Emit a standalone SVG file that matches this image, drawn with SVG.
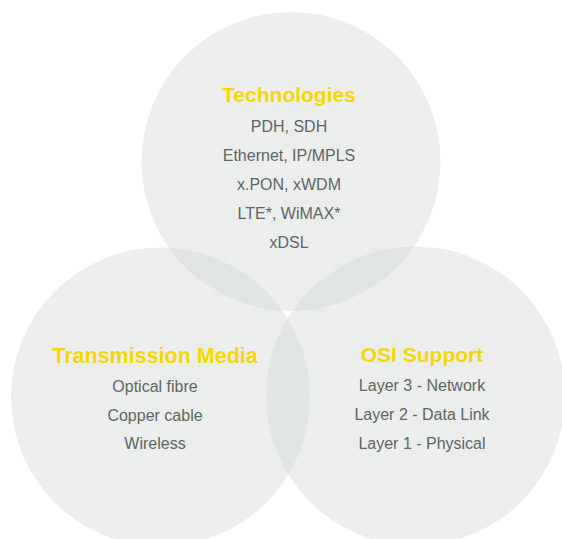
<svg xmlns="http://www.w3.org/2000/svg" width="562" height="539" viewBox="0 0 562 539">
<style>
.c{fill:#d0d4d2;fill-opacity:0.4}
.t{font-family:"Liberation Sans",Arial,sans-serif;font-weight:bold;font-size:21px;fill:#f9d600;text-anchor:middle}
.b{font-family:"Liberation Sans",Arial,sans-serif;font-size:16px;fill:#5c6662;text-anchor:middle}
</style>
<rect width="562" height="539" fill="#ffffff"/>
<g id="technologies">
<circle class="c" cx="291" cy="161.5" r="149.5"/>
<text class="t" x="289" y="102">Technologies</text>
<text class="b" x="289" y="132">PDH, SDH</text>
<text class="b" x="289" y="161">Ethernet, IP/MPLS</text>
<text class="b" x="289" y="190">x.PON, xWDM</text>
<text class="b" x="289" y="219">LTE*, WiMAX*</text>
<text class="b" x="289" y="248">xDSL</text>
</g>
<g id="transmission-media">
<circle class="c" cx="160.5" cy="397" r="149.5"/>
<text class="t" x="155" y="363" style="font-size:21.5px">Transmission Media</text>
<text class="b" x="155" y="392">Optical fibre</text>
<text class="b" x="155" y="421">Copper cable</text>
<text class="b" x="155" y="449">Wireless</text>
</g>
<g id="osi-support">
<circle class="c" cx="415.5" cy="396" r="149.5"/>
<text class="t" x="422" y="362">OSI Support</text>
<text class="b" x="422" y="391">Layer 3 - Network</text>
<text class="b" x="422" y="420">Layer 2 - Data Link</text>
<text class="b" x="422" y="449">Layer 1 - Physical</text>
</g>
<g id="connectors"></g>
</svg>
